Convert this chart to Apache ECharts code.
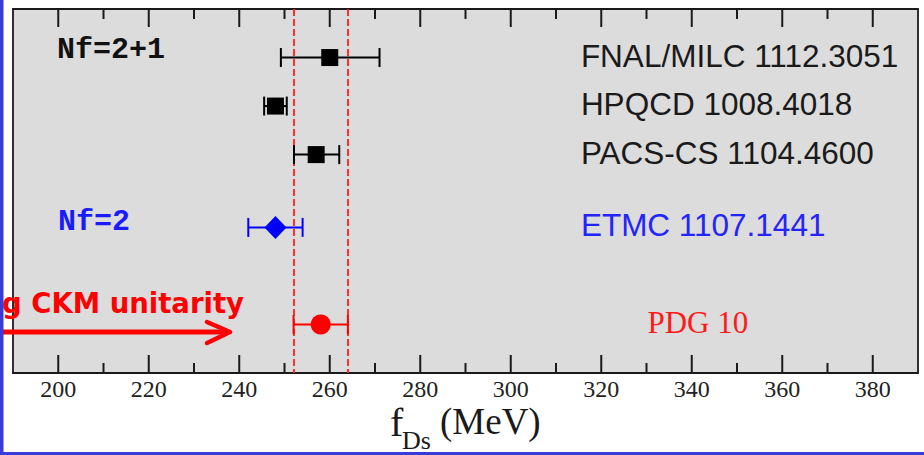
<!DOCTYPE html>
<html>
<head>
<meta charset="utf-8">
<script src="https://cdn.jsdelivr.net/npm/echarts@6/dist/echarts.min.js"></script>
<style>
html,body{margin:0;padding:0;background:#fff;}
#chart{width:924px;height:455px;}
</style>
</head>
<body>
<div id="chart"></div>
<script>
// ---- data ----
const experiments = ['FNAL/MILC 1112.3051', 'HPQCD 1008.4018', 'PACS-CS 1104.4600', 'ETMC 1107.1441', 'PDG 10'];
const centralValues = [260.0, 248.0, 257.0, 248.0, 258.0];
const lowerEnds = [249.2, 245.5, 252.1, 242.0, 252.0];
const upperEnds = [271.0, 250.5, 262.1, 254.0, 264.0];
const rowIndex = [1, 2, 3, 4.5, 6.5];
const markerShapes = ['square', 'square', 'square', 'diamond', 'circle'];
const pdgBand = [252, 264];
const majorTickValues = [200, 220, 240, 260, 280, 300, 320, 340, 360, 380];
const minorTickValues = [210, 230, 250, 270, 290, 310, 330, 350, 370];
const groupLabels = ['Nf=2+1', 'Nf=2'];
const axisTitle = ['f', 'Ds', '(MeV)'];
const noteText = 'g CKM unitarity';

// ---- axis ranges / styles ----
const X_MIN = 190, X_MAX = 390, Y_MIN = 0, Y_MAX = 7.5, MAJOR_STEP = 20;
const markColors = ['#000000', '#000000', '#000000', '#0000ff', '#ff0000'];
const textColors = ['#1a1a1a', '#1a1a1a', '#1a1a1a', '#2424ff', '#ff1a1a'];
const labelFonts = ['Liberation Sans', 'Liberation Sans', 'Liberation Sans', 'Liberation Sans', 'Liberation Serif'];
const LABEL_X = 315.5, PDG_LABEL_X = 330.2;
const MAJOR_LEN_PX = 18, MINOR_LEN_PX = 10, TICK_COLOR = '#1a1a1a', TICK_WIDTH = 2;

// plot box in pixels
const G_LEFT = 13, G_RIGHT = 6, G_TOP = 9, G_BOTTOM = 82, W = 924, H = 455;
const pxPerUnit = (W - G_LEFT - G_RIGHT) / (X_MAX - X_MIN);
// wider helper grid so that labels fall on multiples of MAJOR_STEP
const W_MIN = Math.floor(X_MIN / MAJOR_STEP) * MAJOR_STEP;
const W_MAX = Math.ceil(X_MAX / MAJOR_STEP) * MAJOR_STEP;

const chart = echarts.init(document.getElementById('chart'), null, {renderer: 'svg'});

const seriesData = centralValues.map((v, i) => [v, lowerEnds[i], upperEnds[i], rowIndex[i], i]);
const tickData = majorTickValues.concat(minorTickValues).map(v => [v, Y_MIN]);

function renderItem(params, api) {
  const i = api.value(4);
  const row = api.value(3);
  const c = api.coord([api.value(0), row]);
  const lo = api.coord([api.value(1), row]);
  const hi = api.coord([api.value(2), row]);
  const col = markColors[i];
  const capH = 19;
  const lw = 2;
  const children = [
    {type: 'line', shape: {x1: lo[0], y1: c[1], x2: hi[0], y2: c[1]}, style: {stroke: col, lineWidth: lw}},
    {type: 'line', shape: {x1: lo[0], y1: c[1] - capH / 2, x2: lo[0], y2: c[1] + capH / 2}, style: {stroke: col, lineWidth: lw}},
    {type: 'line', shape: {x1: hi[0], y1: c[1] - capH / 2, x2: hi[0], y2: c[1] + capH / 2}, style: {stroke: col, lineWidth: lw}}
  ];
  const shp = markerShapes[i];
  if (shp === 'square') {
    children.push({type: 'rect', shape: {x: c[0] - 8.5, y: c[1] - 8.5, width: 17, height: 17}, style: {fill: col}});
  } else if (shp === 'diamond') {
    children.push({type: 'polygon', shape: {points: [[c[0], c[1] - 11.5], [c[0] + 11, c[1]], [c[0], c[1] + 11.5], [c[0] - 11, c[1]]]}, style: {fill: col}});
  } else {
    children.push({type: 'circle', shape: {cx: c[0], cy: c[1], r: 10}, style: {fill: col}});
  }
  const lp = api.coord([shp === 'circle' ? PDG_LABEL_X : LABEL_X, row]);
  children.push({
    type: 'text',
    style: {
      text: experiments[i], x: lp[0], y: lp[1] - 2,
      fill: textColors[i], fontSize: shp === 'circle' ? 31 : 31.5, fontFamily: labelFonts[i],
      align: 'left', verticalAlign: 'middle'
    }
  });
  return {type: 'group', children: children};
}

// inward ticks on the top and bottom edges, placed through the x scale
function renderTick(params, api) {
  const v = api.value(0);
  const top = api.coord([v, Y_MIN]);
  const bot = api.coord([v, Y_MAX]);
  const len = majorTickValues.indexOf(v) >= 0 ? MAJOR_LEN_PX : MINOR_LEN_PX;
  return {
    type: 'group',
    children: [
      {type: 'line', shape: {x1: top[0], y1: top[1], x2: top[0], y2: top[1] + len}, style: {stroke: TICK_COLOR, lineWidth: TICK_WIDTH}},
      {type: 'line', shape: {x1: bot[0], y1: bot[1], x2: bot[0], y2: bot[1] - len}, style: {stroke: TICK_COLOR, lineWidth: TICK_WIDTH}}
    ]
  };
}

function lineStyle() { return {color: TICK_COLOR, width: 1.8}; }

const option = {
  animation: false,
  backgroundColor: '#ffffff',
  grid: [
    {left: G_LEFT, right: G_RIGHT, top: G_TOP, bottom: G_BOTTOM, containLabel: false, outerBoundsMode: 'none', show: false},
    {left: G_LEFT - (X_MIN - W_MIN) * pxPerUnit, right: G_RIGHT - (W_MAX - X_MAX) * pxPerUnit, top: G_TOP, bottom: G_BOTTOM,
     containLabel: false, outerBoundsMode: 'none', show: false}
  ],
  xAxis: [
    {type: 'value', gridIndex: 0, position: 'bottom', min: X_MIN, max: X_MAX, z: 4,
     splitLine: {show: false}, axisLine: {show: true, onZero: false, lineStyle: lineStyle()},
     axisTick: {show: false}, axisLabel: {show: false}},
    {type: 'value', gridIndex: 0, position: 'top', min: X_MIN, max: X_MAX, z: 4,
     splitLine: {show: false}, axisLine: {show: true, onZero: false, lineStyle: lineStyle()},
     axisTick: {show: false}, axisLabel: {show: false}},
    // tick labels (every 20)
    {type: 'value', gridIndex: 1, position: 'bottom', min: W_MIN, max: W_MAX, interval: MAJOR_STEP, z: 4,
     splitLine: {show: false}, axisLine: {show: false, onZero: false}, axisTick: {show: false},
     axisLabel: {show: true, showMinLabel: false, showMaxLabel: false, margin: 4, color: '#222', fontFamily: 'Liberation Serif', fontSize: 24,
                 formatter: v => (majorTickValues.indexOf(v) >= 0 ? String(v) : '')}}
  ],
  yAxis: [
    {type: 'value', gridIndex: 0, min: Y_MIN, max: Y_MAX, inverse: true, z: 4,
     axisLine: {show: true, onZero: false, lineStyle: lineStyle()}, axisTick: {show: false}, axisLabel: {show: false}, splitLine: {show: false}},
    {type: 'value', gridIndex: 0, position: 'right', min: Y_MIN, max: Y_MAX, inverse: true, z: 4,
     axisLine: {show: true, onZero: false, lineStyle: lineStyle()}, axisTick: {show: false}, axisLabel: {show: false}, splitLine: {show: false}},
    {type: 'value', gridIndex: 1, min: Y_MIN, max: Y_MAX, inverse: true, show: false}
  ],
  series: [
    {
      type: 'custom', xAxisIndex: 0, yAxisIndex: 0, silent: true,
      renderItem: renderTick,
      data: tickData,
      encode: {x: 0, y: 1},
      clip: false, z: 6
    },
    {
      type: 'line', xAxisIndex: 0, yAxisIndex: 0, data: [], silent: true, z: 3,
      markLine: {
        silent: true, symbol: ['none', 'none'], label: {show: false},
        lineStyle: {color: '#ff2020', width: 1.8, type: [7, 3]},
        data: pdgBand.map(v => ({xAxis: v}))
      }
    },
    {
      type: 'custom', xAxisIndex: 0, yAxisIndex: 0,
      renderItem: renderItem,
      data: seriesData,
      encode: {x: 0, y: 3},
      clip: false, z: 5
    }
  ],
  graphic: [
    {type: 'rect', z: -100, silent: true, shape: {x: G_LEFT, y: G_TOP, width: W - G_LEFT - G_RIGHT, height: H - G_TOP - G_BOTTOM}, style: {fill: '#dcdcdc'}},
    {type: 'text', left: 57, top: 35, z: 10, style: {text: groupLabels[0], fill: '#111', font: 'bold 30px "Liberation Mono"'}},
    {type: 'text', left: 58, top: 207, z: 10, style: {text: groupLabels[1], fill: '#1a1aff', font: 'bold 30px "Liberation Mono"'}},
    {type: 'text', x: 390, y: 422, z: 10, style: {text: axisTitle[0], fill: '#1a1a1a', fontSize: 40, fontFamily: 'Liberation Serif', verticalAlign: 'middle'}},
    {type: 'text', x: 402, y: 440, z: 10, style: {text: axisTitle[1], fill: '#1a1a1a', fontSize: 26, fontFamily: 'Liberation Serif', verticalAlign: 'middle'}},
    {type: 'text', x: 440, y: 421, z: 10, style: {text: axisTitle[2], fill: '#1a1a1a', fontSize: 37, fontFamily: 'Liberation Serif', verticalAlign: 'middle'}},
    {type: 'text', x: 244, y: 303, z: 20, style: {text: noteText, fill: '#ff0000', fontSize: 27.5, fontWeight: 'bold', fontFamily: 'DejaVu Sans', align: 'right', verticalAlign: 'middle'}},
    {type: 'polyline', z: 20, shape: {points: [[0, 332], [229, 332]]}, style: {stroke: '#ff0000', lineWidth: 5, fill: null}},
    {type: 'polyline', z: 20, shape: {points: [[207, 322], [230, 332], [207, 343]]}, style: {stroke: '#ff0000', lineWidth: 4.5, fill: null, lineCap: 'round', lineJoin: 'round'}},
    {type: 'rect', z: 30, shape: {x: 0, y: 0, width: 3.5, height: 455}, style: {fill: '#3a3ad8'}},
    {type: 'rect', z: 30, shape: {x: 0, y: 452, width: 924, height: 3}, style: {fill: '#3a3ad8'}}
  ]
};

chart.setOption(option);
</script>
</body>
</html>
